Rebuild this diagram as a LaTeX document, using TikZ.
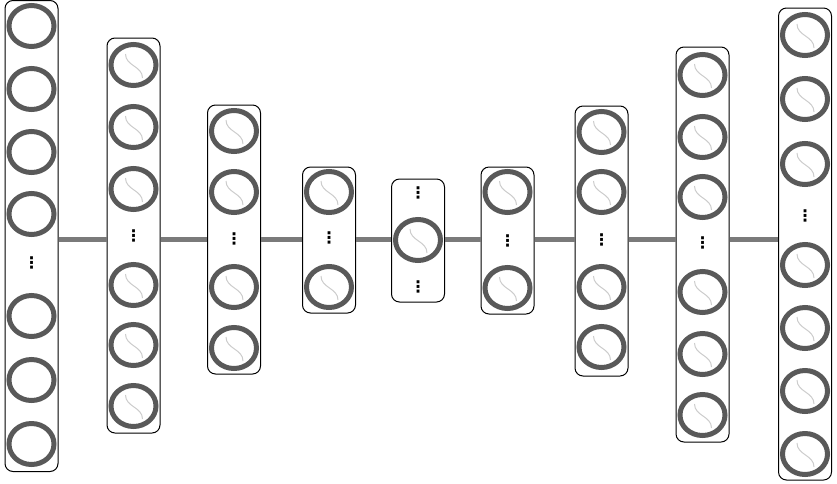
\documentclass[tikz,border=0pt]{standalone}
\usepackage{fontspec}
\usepackage{tikz}
\usetikzlibrary{shapes.geometric}
\newfontfamily\dotsfont{DejaVu Sans}
\definecolor{neurongray}{HTML}{595959}
\definecolor{linkgray}{HTML}{7A7A7A}
\definecolor{sigcolor}{HTML}{CCCCCC}

\begin{document}
\begin{tikzpicture}[x=1pt, y=-1pt,
    layerbox/.style={rectangle, rounded corners=8pt, draw=black, line width=1pt, minimum width=53pt, inner sep=0pt},
    neuron/.style={ellipse, draw=neurongray, line width=5pt, minimum width=45pt, minimum height=41pt, inner sep=0pt},
    sigmoid/.style={path picture={\draw[sigcolor, line width=1pt] ([shift={(-8,-11)}]path picture bounding box.center) .. controls +(0,12) and +(0,-12) .. ([shift={(9,13)}]path picture bounding box.center);}},
    dotsmark/.style={font=\dotsfont\bfseries\fontsize{16}{16}\selectfont, inner sep=0pt},
    link/.style={linkgray, line width=5pt}]

    % Page frame
    \useasboundingbox (0,0) rectangle (837,483);
    \coordinate (mid) at (0,239);

    % Input layer (no activation)
    \node[layerbox, minimum height=471pt] (L1) at (31.5,236) {};
    \foreach \y [count=\i] in {26,89,152,214,316,380,444}
        \node[neuron] (n1-\i) at (31.5,\y) {};
    \node[dotsmark] (d1) at (31.5,263) {⋮};

    % Encoder layers
    \node[layerbox, minimum height=395pt] (L2) at (133.5,235.5) {};
    \foreach \y [count=\i] in {65,127,189,285,345,406}
        \node[neuron, sigmoid] (n2-\i) at (133.5,\y) {};
    \node[dotsmark] (d2) at (133.5,236) {⋮};

    \node[layerbox, minimum height=269pt] (L3) at (234,239.5) {};
    \foreach \y [count=\i] in {131,192,287,348}
        \node[neuron, sigmoid] (n3-\i) at (234,\y) {};
    \node[dotsmark] (d3) at (234,239) {⋮};

    \node[layerbox, minimum height=146pt] (L4) at (329,240) {};
    \foreach \y [count=\i] in {192,287}
        \node[neuron, sigmoid] (n4-\i) at (329,\y) {};
    \node[dotsmark] (d4) at (329,238) {⋮};

    % Bottleneck
    \node[layerbox, minimum height=123pt] (L5) at (418,240.5) {};
    \node[neuron, sigmoid] (n5-1) at (418,240) {};
    \node[dotsmark] (d5a) at (418,193) {⋮};
    \node[dotsmark] (d5b) at (418,287) {⋮};

    % Decoder layers
    \node[layerbox, minimum height=147pt] (L6) at (507.5,240.5) {};
    \foreach \y [count=\i] in {192,288}
        \node[neuron, sigmoid] (n6-\i) at (507.5,\y) {};
    \node[dotsmark] (d6) at (507.5,241) {⋮};

    \node[layerbox, minimum height=270pt] (L7) at (601.5,241) {};
    \foreach \y [count=\i] in {132,192,287,347}
        \node[neuron, sigmoid] (n7-\i) at (601.5,\y) {};
    \node[dotsmark] (d7) at (601.5,240) {⋮};

    \node[layerbox, minimum height=395pt] (L8) at (702.5,244.5) {};
    \foreach \y [count=\i] in {75,137,197,292,354,415}
        \node[neuron, sigmoid] (n8-\i) at (702.5,\y) {};
    \node[dotsmark] (d8) at (702.5,243) {⋮};

    % Output layer
    \node[layerbox, minimum height=472pt] (L9) at (805,244) {};
    \foreach \y [count=\i] in {35,99,164,265,328,391,454}
        \node[neuron, sigmoid] (n9-\i) at (805,\y) {};
    \node[dotsmark] (d9) at (805,216) {⋮};

    % Links between layers
    \foreach \a/\b in {1/2,2/3,3/4,4/5,5/6,6/7,7/8,8/9}
        \draw[link] (L\a.east |- mid) -- (L\b.west |- mid);
\end{tikzpicture}
\end{document}
